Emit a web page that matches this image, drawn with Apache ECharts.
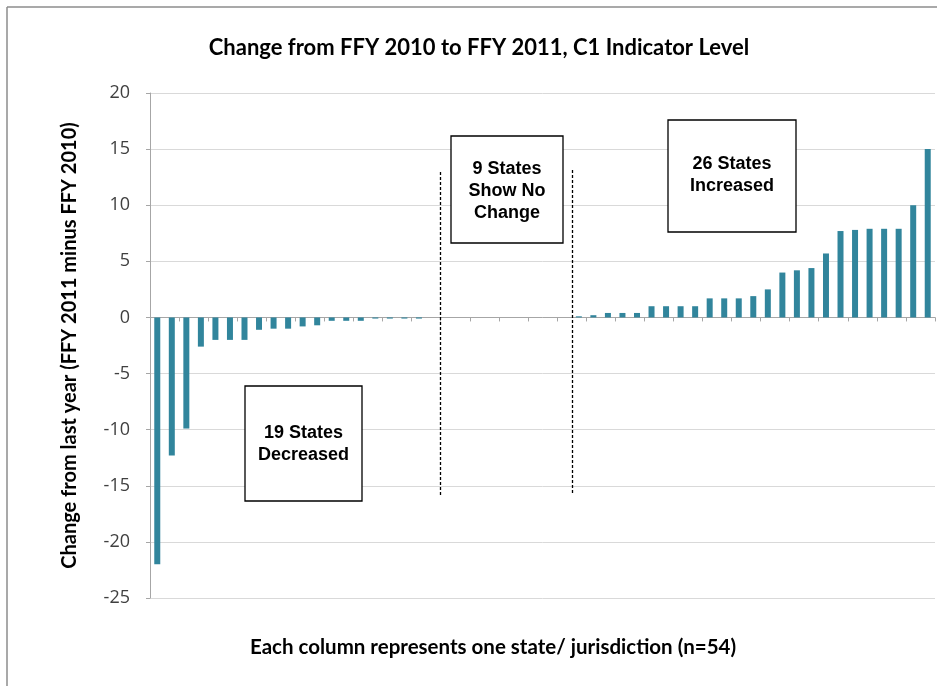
<!DOCTYPE html>
<html>
<head>
<meta charset="utf-8">
<script src="https://cdn.jsdelivr.net/npm/echarts@6/dist/echarts.min.js"></script>
<style>
html,body{margin:0;padding:0;background:#fff;}
#chart{width:937px;height:686px;}
</style>
</head>
<body>
<div id="chart"></div>
<script>
// ---- data ----
const titleText = "Change from FFY 2010 to FFY 2011, C1 Indicator Level";
const yAxisName = "Change from last year (FFY 2011 minus FFY 2010)";
const xAxisName = "Each column represents one state/ jurisdiction (n=54)";
const decreased = [-22, -12.3, -9.9, -2.6, -2.0, -2.0, -2.0, -1.1, -1.0, -1.0, -0.8, -0.7, -0.3, -0.3, -0.3, -0.1, -0.1, -0.1, -0.1];
const noChange = [0, 0, 0, 0, 0, 0, 0, 0, 0, 0];
const increased = [0.1, 0.2, 0.4, 0.4, 0.4, 1.0, 1.0, 1.0, 1.0, 1.7, 1.7, 1.7, 1.9, 2.5, 4.0, 4.2, 4.4, 5.7, 7.7, 7.8, 7.9, 7.9, 7.9, 10, 15];
const values = decreased.concat(noChange, increased);
const categories = values.map((v, i) => String(i + 1));
const yTicks = { min: -25, max: 20, interval: 5 };
const notes = [
  { lines: ["19 States", "Decreased"] },
  { lines: ["9 States", "Show No", "Change"] },
  { lines: ["26 States", "Increased"] }
];

const chart = echarts.init(document.getElementById('chart'));
const boxFont = 'bold 18px "Liberation Sans", Arial, sans-serif';
function box(x, y, w, h, lines, firstY, lh) {
  const children = [{
    type: 'rect', z: 100, shape: { x: x, y: y, width: w, height: h },
    style: { fill: '#fff', stroke: '#000', lineWidth: 1.3 }
  }];
  lines.forEach((t, i) => children.push({
    type: 'text', z: 101, x: x + w / 2, y: firstY + i * lh,
    style: { text: t, font: boxFont, fill: '#000', align: 'center', verticalAlign: 'middle' }
  }));
  return { type: 'group', children: children };
}
const option = {
  animation: false,
  backgroundColor: '#fff',
  title: {
    text: titleText, left: 474, top: 32, textAlign: 'center',
    textStyle: { fontFamily: 'Lato, "Open Sans", sans-serif', fontWeight: 'bold', fontSize: 22, color: '#000' }
  },
  grid: { left: 150, right: 2, top: 93, bottom: 88, containLabel: false },
  xAxis: {
    type: 'category', data: categories,
    axisLine: { onZero: true, lineStyle: { color: '#a6a6a6' } },
    axisTick: { show: true, length: 4, lineStyle: { color: '#a6a6a6' } },
    axisLabel: { show: false },
    splitLine: { show: false }
  },
  yAxis: {
    type: 'value', min: yTicks.min, max: yTicks.max, interval: yTicks.interval,
    name: yAxisName, nameLocation: 'middle', nameGap: 70, nameRotate: 90,
    nameTextStyle: { fontFamily: 'Lato, "Open Sans", sans-serif', fontWeight: 'bold', fontSize: 20, color: '#000' },
    axisLine: { show: true, lineStyle: { color: '#a6a6a6' } },
    axisTick: { show: true, length: 4, lineStyle: { color: '#a6a6a6' } },
    axisLabel: { fontFamily: '"Open Sans", Lato, sans-serif', fontSize: 18, color: '#404040', margin: 20 },
    splitLine: { lineStyle: { color: '#d9d9d9', width: 1 } }
  },
  series: [{
    type: 'bar', data: values, barWidth: 6,
    itemStyle: { color: '#31859C' }
  }],
  graphic: [
    { type: 'line', shape: { x1: 7, y1: 7, x2: 937, y2: 7 }, style: { stroke: '#8c8c8c', lineWidth: 1.5 } },
    { type: 'line', shape: { x1: 7, y1: 7, x2: 7, y2: 686 }, style: { stroke: '#8c8c8c', lineWidth: 1.5 } },
    { type: 'line', z: 100, shape: { x1: 440.5, y1: 172, x2: 440.5, y2: 495 }, style: { stroke: '#000', lineWidth: 1.3, lineDash: [3, 2] } },
    { type: 'line', z: 100, shape: { x1: 572.5, y1: 170, x2: 572.5, y2: 495 }, style: { stroke: '#000', lineWidth: 1.3, lineDash: [3, 2] } },
    box(245, 386, 117, 115, notes[0].lines, 433, 22),
    box(451, 136, 112, 107, notes[1].lines, 169, 22),
    box(668, 120, 128, 112, notes[2].lines, 164, 22),
    {
      type: 'text', x: 493, y: 647,
      style: { text: xAxisName, font: 'bold 20.5px Lato, "Open Sans", sans-serif', fill: '#000', align: 'center', verticalAlign: 'middle' }
    }
  ]
};
chart.setOption(option);
</script>
</body>
</html>
